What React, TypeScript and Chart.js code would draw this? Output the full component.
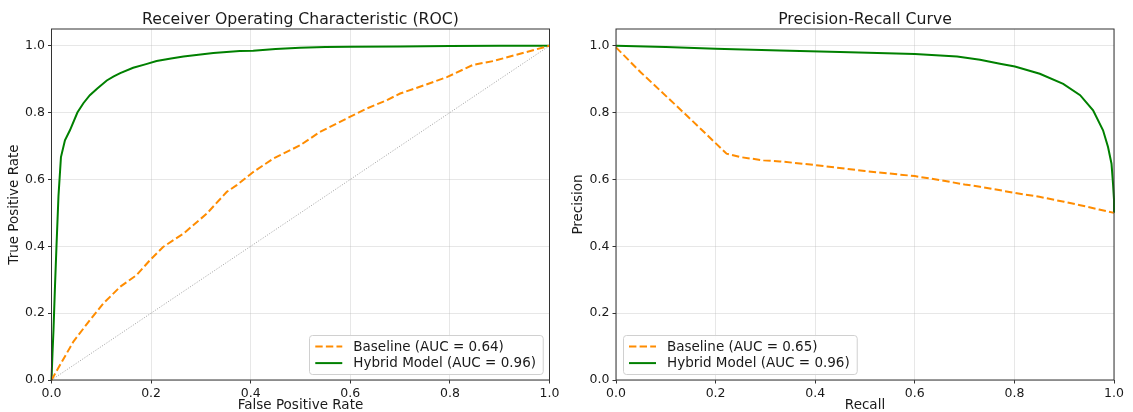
import React, { useEffect, useRef } from "react";
import { Chart, registerables } from "chart.js";

Chart.register(...registerables);

// ---------- data ----------
const axisTicks = [0, 0.2, 0.4, 0.6, 0.8, 1.0];
const tickLabels = ["0.0", "0.2", "0.4", "0.6", "0.8", "1.0"];

const rocTitle = "Receiver Operating Characteristic (ROC)";
const prTitle = "Precision-Recall Curve";
const rocLabels = ["Baseline (AUC = 0.64)", "Hybrid Model (AUC = 0.96)"];
const prLabels = ["Baseline (AUC = 0.65)", "Hybrid Model (AUC = 0.96)"];

const rocBaselineFpr = [0, 0.044, 0.077, 0.104, 0.138, 0.171, 0.198, 0.224, 0.265, 0.312, 0.352, 0.372, 0.405, 0.445, 0.499, 0.539, 0.599, 0.633, 0.673, 0.7, 0.747, 0.794, 0.847, 0.887, 0.941, 1.0];
const rocBaselineTpr = [0, 0.115, 0.179, 0.229, 0.279, 0.314, 0.359, 0.398, 0.438, 0.498, 0.563, 0.583, 0.622, 0.662, 0.702, 0.742, 0.787, 0.812, 0.837, 0.857, 0.881, 0.906, 0.943, 0.954, 0.976, 1.0];

const rocHybridFpr = [0, 0.002, 0.004, 0.007, 0.01, 0.014, 0.019, 0.027, 0.037, 0.052, 0.064, 0.077, 0.092, 0.111, 0.125, 0.138, 0.164, 0.19, 0.211, 0.24, 0.265, 0.295, 0.325, 0.378, 0.405, 0.45, 0.499, 0.55, 0.6, 0.7, 0.8, 0.9, 1.0];
const rocHybridTpr = [0, 0.08, 0.15, 0.28, 0.4, 0.55, 0.667, 0.717, 0.747, 0.8, 0.828, 0.852, 0.872, 0.896, 0.908, 0.918, 0.934, 0.945, 0.954, 0.962, 0.968, 0.973, 0.978, 0.984, 0.985, 0.99, 0.994, 0.996, 0.997, 0.998, 0.999, 1.0, 1.0];

const chanceX = [0, 1];
const chanceY = [0, 1];

const prBaselineRecall = [0, 0.05, 0.1, 0.15, 0.222, 0.249, 0.296, 0.329, 0.4, 0.5, 0.6, 0.65, 0.7, 0.731, 0.8, 0.85, 0.9, 0.932, 0.97, 1.0];
const prBaselinePrecision = [0.995, 0.92, 0.85, 0.78, 0.677, 0.667, 0.657, 0.654, 0.643, 0.625, 0.61, 0.598, 0.585, 0.578, 0.56, 0.548, 0.533, 0.523, 0.51, 0.5];

const prHybridRecall = [0, 0.1, 0.2, 0.329, 0.45, 0.6, 0.685, 0.731, 0.771, 0.801, 0.851, 0.898, 0.932, 0.958, 0.978, 0.988, 0.995, 0.998, 1.0, 1.0];
const prHybridPrecision = [1.0, 0.996, 0.991, 0.986, 0.981, 0.975, 0.968, 0.958, 0.946, 0.938, 0.916, 0.886, 0.852, 0.807, 0.747, 0.697, 0.647, 0.588, 0.54, 0.5];

// ---------- styling ----------
const FONT = "DejaVu Sans";
const ORANGE = "#ff8c00";
const GREEN = "#008000";
const TEXT = "#1a1a1a";

const pts = (xs: number[], ys: number[]) => xs.map((x, i) => ({ x, y: ys[i] }));

function framePlugin(title: string) {
  return {
    id: "frame",
    afterDatasetsDraw(chart: any) {
      const { ctx, chartArea: a } = chart;
      ctx.save();
      ctx.strokeStyle = "#333333";
      ctx.lineWidth = 1;
      ctx.strokeRect(a.left, a.top, a.right - a.left, a.bottom - a.top);
      // axes title, centred over the plot area (matplotlib style)
      ctx.font = `15.7px "${FONT}"`;
      ctx.fillStyle = TEXT;
      ctx.textAlign = "center";
      ctx.textBaseline = "alphabetic";
      ctx.fillText(title, (a.left + a.right) / 2, 23.5);
      ctx.restore();
    },
  };
}

function legendPlugin(corner: "left" | "right") {
  return {
    id: "innerLegend",
    afterDraw(chart: any) {
      const { ctx, chartArea: a } = chart;
      const items = chart.data.datasets.filter((d: any) => d.label);
      ctx.save();
      ctx.font = `13.5px "${FONT}"`;
      const textW = Math.max(...items.map((d: any) => ctx.measureText(d.label).width));
      const padL = 6, handle = 27, gap = 11, padR = 7;
      const w = padL + handle + gap + textW + padR;
      const h = 39;
      const x = corner === "right" ? a.right - 6.5 - w : a.left + 7;
      const y = a.bottom - 6 - h;
      ctx.beginPath();
      (ctx as any).roundRect(Math.round(x) + 0.5, Math.round(y) + 0.5, w, h, 3);
      ctx.fillStyle = "rgba(255,255,255,0.85)";
      ctx.fill();
      ctx.strokeStyle = "#d0d0d0";
      ctx.lineWidth = 1;
      ctx.stroke();
      items.forEach((d: any, i: number) => {
        const cy = y + 11.5 + i * 16.6;
        ctx.beginPath();
        ctx.setLineDash(d.borderDash || []);
        ctx.strokeStyle = d.borderColor;
        ctx.lineWidth = 2;
        ctx.moveTo(x + padL, cy);
        ctx.lineTo(x + padL + handle, cy);
        ctx.stroke();
        ctx.setLineDash([]);
        ctx.fillStyle = TEXT;
        ctx.textBaseline = "middle";
        ctx.textAlign = "left";
        ctx.fillText(d.label, x + padL + handle + gap, cy + 0.5);
      });
      ctx.restore();
    },
  };
}

function axisOptions(
  axis: "x" | "y",
  title: string,
  size: number,
  titlePad: number,
  max: number
) {
  return {
    type: "linear",
    min: 0,
    max,
    afterBuildTicks: (scale: any) => {
      scale.ticks = axisTicks.map((value) => ({ value }));
    },
    afterFit: (scale: any) => {
      if (axis === "x") scale.height = size;
      else scale.width = size;
    },
    ticks: {
      autoSkip: false,
      maxRotation: 0,
      padding: 3,
      color: TEXT,
      font: { family: FONT, size: 12.5 },
      callback: (_v: any, i: number) => tickLabels[i],
    },
    grid: {
      color: "rgba(176,176,176,0.3)",
      lineWidth: 1,
      drawTicks: true,
      tickLength: 3.5,
      tickColor: "#333333",
    },
    border: { display: false },
    title: {
      display: true,
      text: title,
      color: TEXT,
      font: axis === "x" ? { family: FONT, size: 13.5, lineHeight: 1 } : { family: FONT, size: 13.5 },
      padding: axis === "x" ? { top: 0, bottom: 0 } : { top: titlePad, bottom: 0 },
    },
  };
}

function makeConfig(opts: {
  title: string;
  xTitle: string;
  yTitle: string;
  yAxisWidth: number;
  yTitlePad: number;
  rightPad: number;
  datasets: any[];
  corner: "left" | "right";
}) {
  return {
    type: "scatter",
    data: { datasets: opts.datasets },
    options: {
      responsive: false,
      animation: false,
      devicePixelRatio: 1,
      layout: { padding: { left: 0, right: opts.rightPad, top: 29, bottom: 0 } },
      plugins: {
        legend: { display: false },
        tooltip: { enabled: false },
        title: { display: false },
      },
      scales: {
        x: axisOptions("x", opts.xTitle, 32, 0, 1.0),
        y: axisOptions("y", opts.yTitle, opts.yAxisWidth, opts.yTitlePad, 1.05),
      },
    },
    plugins: [framePlugin(opts.title), legendPlugin(opts.corner)],
  };
}

function lineDataset(label: string, xs: number[], ys: number[], color: string, dash: number[], width: number) {
  return {
    label,
    data: pts(xs, ys),
    showLine: true,
    borderColor: color,
    backgroundColor: color,
    borderWidth: width,
    borderDash: dash,
    pointRadius: 0,
    tension: 0,
    clip: false,
  };
}

function ChartCanvas({ left, width, config }: { left: number; width: number; config: any }) {
  const ref = useRef<HTMLCanvasElement | null>(null);
  useEffect(() => {
    if (!ref.current) return;
    const chart = new Chart(ref.current, config);
    return () => chart.destroy();
  }, []);
  return (
    <canvas
      ref={ref}
      width={width}
      height={412}
      style={{ position: "absolute", left, top: 0, width, height: 412, display: "block" }}
    />
  );
}

export default function App() {
  const rocConfig = makeConfig({
    title: rocTitle,
    xTitle: "False Positive Rate",
    yTitle: "True Positive Rate",
    yAxisWidth: 51.5,
    yTitlePad: 6,
    rightPad: 16.5,
    corner: "right",
    datasets: [
      lineDataset(rocLabels[0], rocBaselineFpr, rocBaselineTpr, ORANGE, [7.4, 3.2], 2),
      lineDataset(rocLabels[1], rocHybridFpr, rocHybridTpr, GREEN, [], 2),
      lineDataset("", chanceX, chanceY, "rgba(128,128,128,0.75)", [1, 1.65], 1),
    ],
  });
  const prConfig = makeConfig({
    title: prTitle,
    xTitle: "Recall",
    yTitle: "Precision",
    yAxisWidth: 50,
    yTitlePad: 4,
    rightPad: 19,
    corner: "left",
    datasets: [
      lineDataset(prLabels[0], prBaselineRecall, prBaselinePrecision, ORANGE, [7.4, 3.2], 2),
      lineDataset(prLabels[1], prHybridRecall, prHybridPrecision, GREEN, [], 2),
    ],
  });
  return (
    <div style={{ position: "absolute", left: 0, top: 0, width: 1133, height: 412, background: "#fff" }}>
      <ChartCanvas left={0} width={566} config={rocConfig} />
      <ChartCanvas left={566} width={567} config={prConfig} />
    </div>
  );
}
